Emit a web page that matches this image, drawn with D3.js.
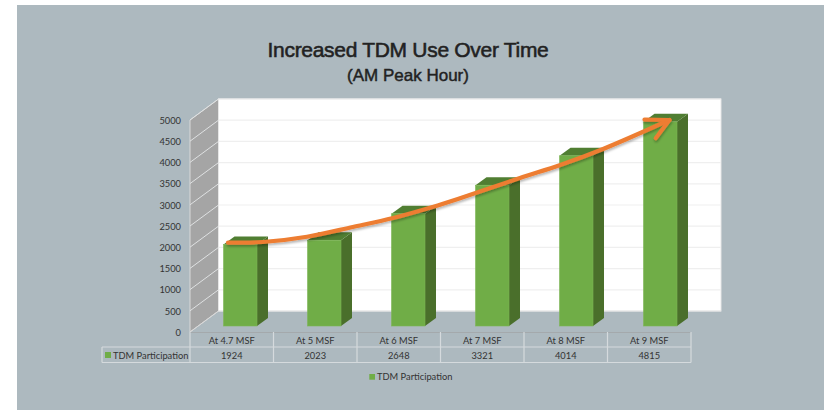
<!DOCTYPE html>
<html><head><meta charset="utf-8">
<script src="https://cdnjs.cloudflare.com/ajax/libs/d3/7.8.5/d3.min.js"></script>
<style>html,body{margin:0;padding:0;background:#fff}svg{display:block}text{font-family:Lato,"Open Sans",sans-serif}</style>
</head><body><div id="c"></div>
<script>
const categories = ["At 4.7 MSF","At 5 MSF","At 6 MSF","At 7 MSF","At 8 MSF","At 9 MSF"];
const seriesName = "TDM Participation";
const seriesValues = [1924,2023,2648,3321,4014,4815];
const yTicks = [0,500,1000,1500,2000,2500,3000,3500,4000,4500,5000];
const titleText = "Increased TDM Use Over Time";
const subtitleText = "(AM Peak Hour)";
// Hand-drawn trend arrow: position in category units, value in axis units
const arrowCategory = [-0.146,0.27,0.795,1.34,1.82,2.29,2.59,3.33,3.81,4.32,5.11];
const arrowValue = [1965,1981,2106,2335,2547,2807,2995,3491,3797,4175,4858];

const W=824,H=410;
const svg=d3.select("#c").append("svg").attr("width",W).attr("height",H);
svg.append("rect").attr("x",17).attr("y",5).attr("width",W-17).attr("height",H-5).attr("fill","#adb9bf");

const plotL=190,plotR=691,y0=332,y1=120,depthX=28.5,depthY=21;
const backR=721;
const x=d3.scaleBand().domain(categories).range([plotL,plotR]);
const xBar=d3.scaleBand().domain(categories).range([198.25,702.25]);
const y=d3.scaleLinear().domain([0,5000]).range([y0,y1]);
const barW=33.5,barDX=11,barDY=8,barFront=6;
const barLeft=c=>xBar(c)+xBar.bandwidth()/2-barW/2;
const ctr=d3.scaleLinear().domain([0,5]).range([barLeft(categories[0])+barW/2,barLeft(categories[5])+barW/2]);
const fs=9.3;

// side wall
svg.append("path").attr("fill","#a5a5a5").attr("stroke","#d9d9d9").attr("stroke-width",1)
 .attr("d",`M${plotL},${y(0)}L${plotL},${y(5000)}L${plotL+depthX},${y(5000)-depthY}L${plotL+depthX},${y(0)-depthY}Z`);
// back wall
svg.append("rect").attr("x",plotL+depthX).attr("y",y(5000)-depthY).attr("width",backR-plotL-depthX).attr("height",y(0)-y(5000))
 .attr("fill","#fff").attr("stroke","#e6e6e6").attr("stroke-width",1);
// gridlines
svg.append("g").selectAll("path").data(yTicks.filter(d=>d>0)).join("path")
 .attr("fill","none").attr("stroke","#dfe1e2").attr("stroke-width",1)
 .attr("d",d=>`M${plotL},${y(d)}L${plotL+depthX},${y(d)-depthY}`);
svg.append("g").selectAll("line").data(yTicks.filter(d=>d>0)).join("line")
 .attr("x1",plotL+depthX).attr("x2",backR).attr("y1",d=>y(d)-depthY).attr("y2",d=>y(d)-depthY)
 .attr("stroke","#efefef").attr("stroke-width",1.2);
svg.append("line").attr("x1",plotL).attr("x2",plotL+depthX).attr("y1",y(0)).attr("y2",y(0)-depthY).attr("stroke","#d9d9d9");
svg.append("line").attr("x1",plotL+depthX).attr("x2",backR).attr("y1",y(0)-depthY).attr("y2",y(0)-depthY).attr("stroke","#e6e6e6");

// y labels
svg.append("g").selectAll("text").data(yTicks).join("text")
 .attr("x",181).attr("y",d=>y(d)+3.7).attr("text-anchor","end").attr("font-size",fs).attr("fill","#333").text(d=>d);

// bars
const bars=svg.append("g").selectAll("g").data(categories.map((c,i)=>({c,v:seriesValues[i]}))).join("g");
const base=y0-barFront;
bars.append("path").attr("fill","#4a6f2b").attr("d",d=>{const l=barLeft(d.c)+barW,t=y(d.v)-barFront;
 return `M${l},${base}L${l},${t}L${l+barDX},${t-barDY}L${l+barDX},${base-barDY}Z`;});
bars.append("path").attr("fill","#507e32").attr("d",d=>{const l=barLeft(d.c),t=y(d.v)-barFront;
 return `M${l},${t}L${l+barDX},${t-barDY}L${l+barW+barDX},${t-barDY}L${l+barW},${t}Z`;});
bars.append("rect").attr("x",d=>barLeft(d.c)).attr("y",d=>y(d.v)-barFront).attr("width",barW).attr("height",d=>base-y(d.v)+barFront)
 .attr("fill","#70ad47").attr("stroke","#7db555").attr("stroke-width",.6);

// arrow
const defs=svg.append("defs");
const f=defs.append("filter").attr("id","sh").attr("x","-10%").attr("y","-20%").attr("width","120%").attr("height","150%");
f.append("feDropShadow").attr("dx",0.5).attr("dy",2).attr("stdDeviation",1.3).attr("flood-color","#000").attr("flood-opacity",.28);
const pts=arrowCategory.map((c,i)=>[ctr(c),y(arrowValue[i])-barFront]);
const line=d3.line().curve(d3.curveCatmullRom.alpha(.5));
const ag=svg.append("g").attr("filter","url(#sh)").attr("fill","none").attr("stroke","#ed7d31").attr("stroke-width",4.2).attr("stroke-linecap","round").attr("stroke-linejoin","round");
ag.append("path").attr("d",line(pts));
const tip=pts[pts.length-1],prev=pts[pts.length-2];
const back=Math.atan2(prev[1]-tip[1],prev[0]-tip[0]);
const barb=(a,L)=>[tip[0]+L*Math.cos(back+a),tip[1]+L*Math.sin(back+a)];
const b1=barb(0.43,25),b2=barb(-0.51,22.8);
ag.append("path").attr("d",`M${b1[0]},${b1[1]}L${tip[0]},${tip[1]}L${b2[0]},${b2[1]}`);

// data table
const rowA=y0,rowB=347,rowC=362.5,tabL=102;
const t=svg.append("g").attr("fill","none").attr("stroke","#d5dadd").attr("stroke-width",1.2);
t.append("line").attr("x1",plotL).attr("x2",plotR).attr("y1",rowA+.5).attr("y2",rowA+.5).attr("stroke","#a4a9ac");
t.append("line").attr("x1",tabL).attr("x2",plotR).attr("y1",rowB).attr("y2",rowB);
t.append("line").attr("x1",tabL).attr("x2",plotR).attr("y1",rowC).attr("y2",rowC);
t.append("line").attr("x1",tabL).attr("x2",tabL).attr("y1",rowB).attr("y2",rowC);
t.selectAll("line.v").data(categories.concat(["end"])).join("line").attr("class","v")
 .attr("x1",(d,i)=>i<6?x(d):plotR).attr("x2",(d,i)=>i<6?x(d):plotR).attr("y1",rowA).attr("y2",rowC);
svg.append("g").selectAll("text").data(categories).join("text")
 .attr("x",d=>x(d)+x.bandwidth()/2).attr("y",344).attr("text-anchor","middle").attr("font-size",fs).attr("fill","#333").text(d=>d);
svg.append("g").selectAll("text").data(seriesValues).join("text")
 .attr("x",(d,i)=>x(categories[i])+x.bandwidth()/2).attr("y",358.5).attr("text-anchor","middle").attr("font-size",fs).attr("fill","#333").text(d=>d);
svg.append("rect").attr("x",105).attr("y",352).attr("width",6).attr("height",6).attr("fill","#70ad47");
svg.append("text").attr("x",113).attr("y",358.5).attr("font-size",fs).attr("fill","#333").text(seriesName);
// legend
svg.append("rect").attr("x",369.3).attr("y",374).attr("width",5.7).attr("height",5.7).attr("fill","#70ad47");
svg.append("text").attr("x",377).attr("y",380.2).attr("font-size",fs).attr("fill","#333").text(seriesName);
// titles
svg.append("text").attr("x",408).attr("y",57).attr("text-anchor","middle").style("font-family","'Liberation Sans',Arial,sans-serif").style("letter-spacing","-0.3px").attr("font-size",21).attr("fill","#222").attr("stroke","#222").attr("stroke-width",.55).text(titleText);
svg.append("text").attr("x",408).attr("y",80.5).attr("text-anchor","middle").style("font-family","'Liberation Sans',Arial,sans-serif").attr("font-size",17).attr("fill","#222").attr("stroke","#222").attr("stroke-width",.45).text(subtitleText);
</script></body></html>
